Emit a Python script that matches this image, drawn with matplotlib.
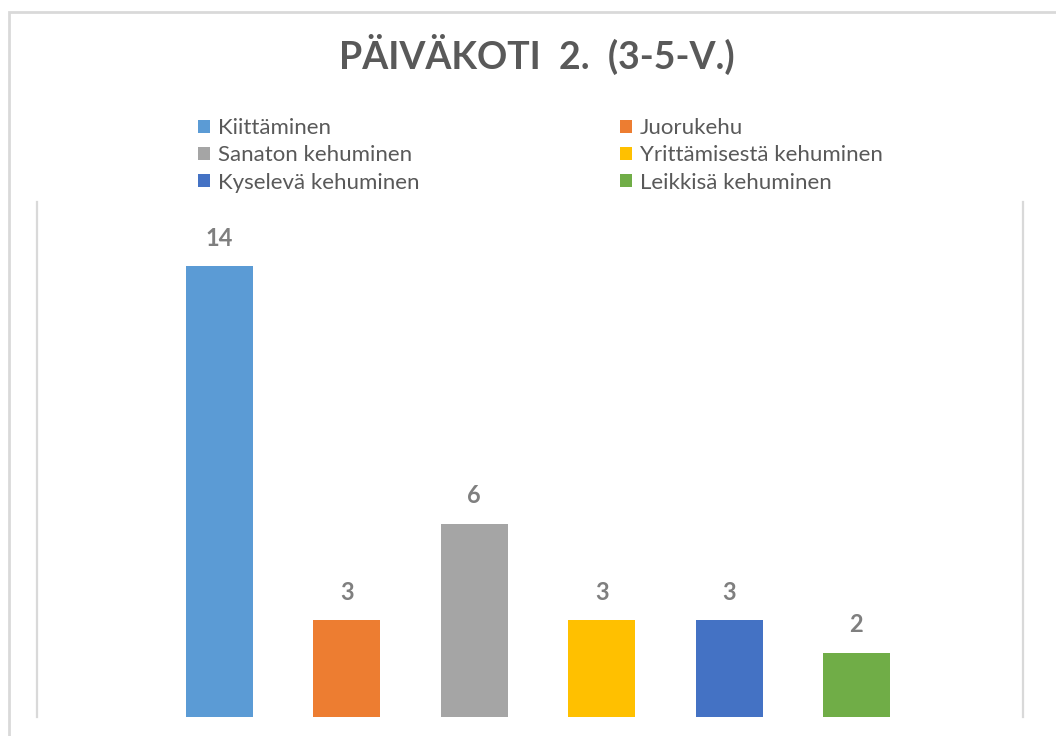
import matplotlib
matplotlib.use("Agg")
import matplotlib.pyplot as plt
from matplotlib.patches import Rectangle, Patch

# data
series = ["Kiittäminen", "Juorukehu", "Sanaton kehuminen",
          "Yrittämisestä kehuminen", "Kyselevä kehuminen", "Leikkisä kehuminen"]
values = [14, 3, 6, 3, 3, 2]
colors = ["#5B9BD5", "#ED7D31", "#A5A5A5", "#FFC000", "#4472C4", "#70AD47"]
title = "PÄIVÄKOTI  2.  (3-5-V.)"

plt.rcParams['font.family'] = ['Lato', 'DejaVu Sans']

fig = plt.figure(figsize=(10.56, 7.36), dpi=100)
W, H = 1056, 736

# outer chart border (cut off on right and bottom)
fig.add_artist(Rectangle((9 / W, -0.1), 1.2, 1 - 12 / H + 0.1, transform=fig.transFigure,
                         fill=False, edgecolor="#d9d9d9", linewidth=2))

ax = fig.add_axes([37 / W, 19 / H, (1023 - 37) / W, (717 - 202) / H])
x = list(range(len(values)))
ax.bar(x, values, width=0.526, color=colors)
for xi, v in zip(x, values):
    ax.text(xi, v + 0.52, str(v), ha="center", va="bottom", fontsize=17,
            fontweight="bold", color="#7f7f7f")

ax.set_xlim(-1.432, 6.307)
ax.set_ylim(0, 16)
ax.set_xticks([])
ax.set_yticks([])
for s in ["top", "bottom"]:
    ax.spines[s].set_visible(False)
for s in ["left", "right"]:
    ax.spines[s].set_color("#d9d9d9")
    ax.spines[s].set_linewidth(1.6)

fig.text(537 / W, 1 - 54 / H, title, ha="center", va="center", fontsize=27,
         fontweight="bold", color="#595959")

# legend: two columns, placed separately
handles = [Patch(facecolor=c, edgecolor="none") for c in colors]
for col, x0 in [(0, 198), (1, 620)]:
    idx = [col, col + 2, col + 4]
    leg = fig.legend([handles[i] for i in idx], [series[i] for i in idx],
                     loc="upper left", bbox_to_anchor=(x0 / W, 1 - 118 / H),
                     frameon=False, fontsize=16, labelcolor="#595959",
                     handlelength=0.54, handleheight=0.54, handletextpad=0.36,
                     labelspacing=0.33, borderpad=0, borderaxespad=0)

fig.savefig("out.png", dpi=100)
